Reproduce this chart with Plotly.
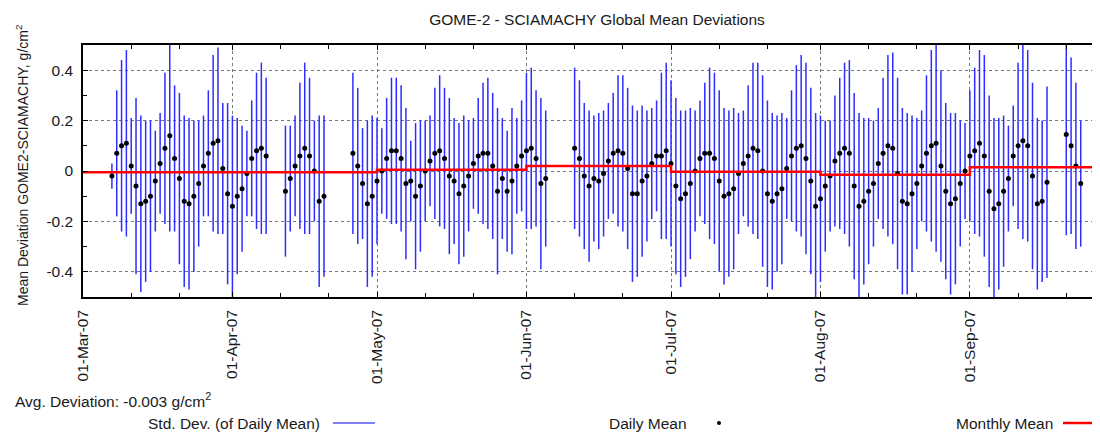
import pandas as pd
import plotly.graph_objects as go

# ---- data ----
segments = [("2007-03-07", "2007-04-08"), ("2007-04-12", "2007-04-20"),
            ("2007-04-26", "2007-06-05"), ("2007-06-11", "2007-09-17"),
            ("2007-09-21", "2007-09-24")]

daily_mean = [
    # Mar 7 - Apr 8
    -0.02, 0.07, 0.10, 0.11, 0.02, -0.06, -0.13, -0.12, -0.10, -0.04, 0.03, 0.09, 0.14, 0.05,
    -0.03, -0.12, -0.13, -0.10, -0.05, 0.02, 0.07, 0.11, 0.12, 0.01, -0.09, -0.14, -0.10, -0.07,
    -0.01, 0.05, 0.08, 0.09, 0.06,
    # Apr 12 - Apr 20
    -0.08, -0.03, 0.02, 0.06, 0.09, 0.06, 0.00, -0.12, -0.10,
    # Apr 26 - Jun 5
    0.07, 0.02, -0.05, -0.13, -0.10, -0.04, 0.00, 0.05, 0.08, 0.08, 0.05, -0.05, -0.04, -0.10,
    -0.06, 0.00, 0.04, 0.07, 0.08, 0.05, -0.02, -0.04, -0.09, -0.06, -0.02, 0.03, 0.06, 0.07,
    0.07, 0.02, -0.08, -0.03, -0.08, -0.04, 0.02, 0.06, 0.08, 0.09, 0.05, -0.05, -0.03,
    # Jun 11 - Sep 17
    0.09, 0.05, -0.02, -0.06, -0.03, -0.04, -0.01, 0.04, 0.07, 0.08, 0.07, 0.01, -0.09, -0.09,
    -0.04, -0.02, 0.03, 0.06, 0.06, 0.08, 0.03, -0.06, -0.11, -0.09, -0.05, 0.00, 0.05, 0.07,
    0.07, 0.05, -0.04, -0.10, -0.09, -0.07, -0.01, 0.03, 0.06, 0.09, 0.08, 0.00, -0.09, -0.12,
    -0.09, -0.07, 0.01, 0.06, 0.09, 0.10, 0.05, -0.04, -0.14, -0.11, -0.06, -0.02, 0.04, 0.07,
    0.09, 0.07, -0.06, -0.14, -0.12, -0.08, -0.05, 0.03, 0.07, 0.10, 0.09, -0.01, -0.12, -0.13,
    -0.09, -0.05, 0.02, 0.07, 0.10, 0.11, 0.02, -0.08, -0.13, -0.11, -0.05, 0.00, 0.06, 0.08,
    0.11, 0.06, -0.08, -0.15, -0.13, -0.08, -0.03, 0.06, 0.10, 0.12, 0.10, -0.02, -0.13, -0.12,
    -0.045,
    # Sep 21 - Sep 24
    0.145, 0.10, 0.02, -0.05,
]

daily_std = [
    0.05, 0.25, 0.34, 0.37, 0.19, 0.35, 0.35, 0.32, 0.30, 0.20, 0.20, 0.30, 0.38, 0.29,
    0.34, 0.34, 0.34, 0.30, 0.25, 0.20, 0.25, 0.35, 0.37, 0.26, 0.36, 0.36, 0.31, 0.25,
    0.17, 0.23, 0.31, 0.34, 0.31,
    0.26, 0.21, 0.20, 0.29, 0.34, 0.31, 0.20, 0.34, 0.32,
    0.32, 0.31, 0.22, 0.33, 0.32, 0.25, 0.17, 0.24, 0.29, 0.29, 0.29, 0.30, 0.16, 0.29,
    0.26, 0.20, 0.18, 0.26, 0.30, 0.28, 0.31, 0.25, 0.28, 0.28, 0.22, 0.18, 0.23, 0.28,
    0.30, 0.29, 0.33, 0.24, 0.24, 0.29, 0.19, 0.22, 0.31, 0.32, 0.27, 0.34, 0.27,
    0.32, 0.31, 0.29, 0.30, 0.25, 0.27, 0.25, 0.23, 0.24, 0.30, 0.31, 0.32, 0.35, 0.33,
    0.30, 0.26, 0.22, 0.22, 0.33, 0.35, 0.33, 0.35, 0.35, 0.33, 0.30, 0.24, 0.23, 0.28,
    0.34, 0.34, 0.36, 0.35, 0.33, 0.32, 0.24, 0.21, 0.28, 0.34, 0.35, 0.38, 0.37, 0.35,
    0.31, 0.30, 0.20, 0.26, 0.33, 0.36, 0.38, 0.37, 0.37, 0.33, 0.26, 0.22, 0.26, 0.30,
    0.34, 0.37, 0.37, 0.37, 0.33, 0.29, 0.25, 0.22, 0.30, 0.36, 0.38, 0.38, 0.37, 0.36,
    0.31, 0.26, 0.22, 0.31, 0.38, 0.43, 0.38, 0.35, 0.36, 0.34, 0.25, 0.19, 0.26, 0.33,
    0.37, 0.40, 0.38, 0.36, 0.34, 0.30, 0.21, 0.20, 0.33, 0.39, 0.38, 0.37, 0.34, 0.32,
    0.38,
    0.40, 0.35, 0.33, 0.25,
]

month_starts = ["2007-03-01", "2007-04-01", "2007-05-01", "2007-06-01",
                "2007-07-01", "2007-08-01", "2007-09-01", "2007-09-30"]
monthly_mean = [-0.005, -0.005, 0.005, 0.02, -0.003, -0.015, 0.015, 0.015]

month_labels = ["01-Mar-07", "01-Apr-07", "01-May-07", "01-Jun-07",
                "01-Jul-07", "01-Aug-07", "01-Sep-07"]
minor_days = ["2007-03-11", "2007-03-21", "2007-04-11", "2007-04-21", "2007-05-11",
              "2007-05-21", "2007-06-11", "2007-06-21", "2007-07-11", "2007-07-21",
              "2007-08-11", "2007-08-21", "2007-09-11", "2007-09-21"]

dates = []
for s, e in segments:
    dates.extend(pd.date_range(s, e, freq="D"))

FONT = "Liberation Sans, Arial, sans-serif"
TXT = "#1a1a1a"
FS = 15.5

fig = go.Figure()
fig.add_trace(go.Scatter(
    x=dates, y=daily_mean, mode="markers",
    marker=dict(color="black", size=5),
    error_y=dict(type="data", array=daily_std, symmetric=True,
                 color="rgb(45,45,255)", thickness=1.5, width=0),
    showlegend=False))
fig.add_trace(go.Scatter(
    x=month_starts, y=monthly_mean, mode="lines", line_shape="hv",
    line=dict(color="red", width=2.5), showlegend=False))

# page body has an 8px margin: figure is placed at (8, 8) in the viewport
OFF = 8
W, H = 1100 - OFF, 441 - OFF
L, T = 83 - OFF, 45 - OFF
BOT = 297 - OFF
B = H - BOT
PW, PH = W - L, BOT - T

def px(vx):
    return (vx - OFF - L) / PW

def py(vy):
    return (BOT - (vy - OFF)) / PH

fig.update_layout(
    width=W, height=H,
    margin=dict(l=L, r=0, t=T, b=B, pad=0),
    paper_bgcolor="white", plot_bgcolor="white",
    font=dict(family=FONT, size=FS, color=TXT),
    title=dict(text="GOME-2 - SCIAMACHY Global Mean Deviations", x=px(597), xref="paper",
               xanchor="center", y=1 - (20 - OFF) / H, yanchor="middle",
               font=dict(size=FS, family=FONT, color=TXT)),
    xaxis=dict(type="date", range=["2007-03-01", "2007-09-28"],
               tickmode="array", tickvals=month_starts[:-1], ticktext=month_labels,
               tickangle=-90, ticks="inside", ticklen=5, tickcolor="black",
               ticklabelstandoff=5,
               showline=True, linecolor="black", linewidth=1.5, mirror="allticks",
               showgrid=True, gridcolor="#777", griddash="dot", gridwidth=1,
               zeroline=False, tickfont=dict(size=FS, family=FONT, color=TXT),
               minor=dict(tickmode="array", tickvals=minor_days, ticks="inside",
                          ticklen=4, tickcolor="black", showgrid=False)),
    yaxis=dict(range=[-0.5, 0.5], tickmode="array",
               tickvals=[-0.4, -0.2, 0, 0.2, 0.4], ticktext=["-0.4", "-0.2", "0", "0.2", "0.4"],
               ticks="inside", ticklen=5, tickcolor="black", ticklabelstandoff=5,
               showline=True, linecolor="black", linewidth=1.5, mirror=False,
               showgrid=True, gridcolor="#777", griddash="dot", gridwidth=1,
               zeroline=False, tickfont=dict(size=FS, family=FONT, color=TXT),
               minor=dict(dtick=0.1, ticks="inside", ticklen=4, tickcolor="black",
                          showgrid=False)),
)

ann = [
    dict(text="Mean Deviation GOME2-SCIAMACHY, g/cm<sup>2</sup>", x=px(22), y=py(166),
         textangle=-90, xanchor="center", yanchor="middle", font=dict(size=14)),
    dict(text="Avg. Deviation: -0.003 g/cm<sup>2</sup>", x=px(13), y=py(400),
         xanchor="left", yanchor="middle"),
    dict(text="Std. Dev. (of Daily Mean)", x=px(322), y=py(423),
         xanchor="right", yanchor="middle"),
    dict(text="Daily Mean", x=px(689), y=py(423),
         xanchor="right", yanchor="middle"),
    dict(text="Monthly Mean", x=px(1055), y=py(423),
         xanchor="right", yanchor="middle"),
]
for a in ann:
    a.update(xref="paper", yref="paper", showarrow=False)
    fig.add_annotation(**a)

fig.add_shape(type="line", xref="paper", yref="paper", x0=px(333), x1=px(375),
              y0=py(423), y1=py(423), line=dict(color="blue", width=1))
fig.add_shape(type="circle", xref="paper", yref="paper", x0=px(717), x1=px(721),
              y0=py(425), y1=py(421), fillcolor="black", line=dict(color="black", width=0))
fig.add_shape(type="line", xref="paper", yref="paper", x0=px(1063), x1=px(1100),
              y0=py(423), y1=py(423), line=dict(color="red", width=2.5))

fig.write_html("out.html")
